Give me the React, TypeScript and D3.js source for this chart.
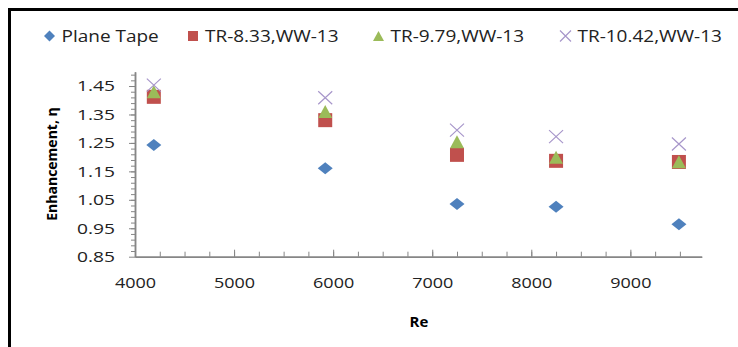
import * as d3 from 'd3';
import React, { useRef, useEffect } from 'react';

// Reynolds numbers on the x axis
const reValues = [4190, 5920, 7250, 8250, 9490];

// enhancement values for each series
const planeTape = [1.243, 1.161, 1.035, 1.026, 0.964];
const tr833 = [1.412, 1.330, 1.208, 1.187, 1.183];
const tr979 = [1.430, 1.360, 1.254, 1.200, 1.184];
const tr1042 = [1.453, 1.409, 1.295, 1.272, 1.246];

const seriesNames = ['Plane Tape', 'TR-8.33,WW-13', 'TR-9.79,WW-13', 'TR-10.42,WW-13'];

// axis ticks
const xTicks = [4000, 5000, 6000, 7000, 8000, 9000];
const xMinorTicks = d3.range(4250, 9750, 250);
const yTicks = [0.85, 0.95, 1.05, 1.15, 1.25, 1.35, 1.45];
const yMinorTicks = d3.range(0.87, 1.5, 0.02);

const FONT = "'Open Sans', 'DejaVu Sans', sans-serif";

// the original text is a little wider than Open Sans, so stretch it
const stretch = (sel, factor) => sel.each(function () {
    const len = this.getComputedTextLength();
    d3.select(this).attr('textLength', len * factor).attr('lengthAdjust', 'spacingAndGlyphs');
});

const App = () => {
    const svgRef = useRef(null);

    useEffect(() => {
        const width = 738;
        const height = 347;

        const svg = d3.select(svgRef.current);
        svg.selectAll('*').remove();
        svg.attr('width', width).attr('height', height);

        // outer frame (cut off at right and bottom like the picture)
        svg.append('rect')
            .attr('x', 9.5).attr('y', 9.5)
            .attr('width', 760).attr('height', 360)
            .attr('fill', 'white')
            .attr('stroke', 'black')
            .attr('stroke-width', 3);

        const x = d3.scaleLinear().domain([4000, 9720]).range([135, 701.7]);
        const y = d3.scaleLinear().domain([0.85, 1.5]).range([256.7, 71.8]);

        const axisColor = '#868686';

        // y axis: minor then major ticks
        const gyMinor = svg.append('g')
            .attr('transform', `translate(${x(4000)},0)`)
            .call(d3.axisLeft(y).tickValues(yMinorTicks).tickSize(4).tickSizeOuter(0).tickFormat(() => ''));
        const gy = svg.append('g')
            .attr('transform', `translate(${x(4000)},0)`)
            .call(d3.axisLeft(y).tickValues(yTicks).tickSize(6).tickSizeOuter(0)
                .tickPadding(14).tickFormat(d3.format('.2f')));

        // x axis ticks point up into the plot
        const gxMinor = svg.append('g')
            .attr('transform', `translate(0,${y(0.85)})`)
            .call(d3.axisBottom(x).tickValues(xMinorTicks).tickSize(-5).tickSizeOuter(0).tickFormat(() => ''));
        const gx = svg.append('g')
            .attr('transform', `translate(0,${y(0.85)})`)
            .call(d3.axisBottom(x).tickValues(xTicks).tickSize(-7).tickSizeOuter(0)
                .tickPadding(21).tickFormat(d3.format('d')));

        [gyMinor, gy, gxMinor, gx].forEach((g) => {
            g.select('.domain').attr('stroke', axisColor).attr('stroke-width', 1.5);
            g.selectAll('.tick line').attr('stroke', axisColor);
            g.selectAll('.tick text')
                .attr('fill', '#222')
                .style('font-family', FONT)
                .style('font-size', '15px');
        });
        stretch(gy.selectAll('.tick text'), 1.28);
        stretch(gx.selectAll('.tick text'), 1.2);

        // axis titles
        svg.append('text')
            .attr('transform', `translate(57,164) rotate(-90)`)
            .attr('text-anchor', 'middle')
            .style('font-family', FONT)
            .style('font-size', '14px')
            .style('font-weight', 'bold')
            .text('Enhancement, η');

        svg.append('text')
            .attr('x', 419).attr('y', 327)
            .attr('text-anchor', 'middle')
            .style('font-family', FONT)
            .style('font-size', '15px')
            .style('font-weight', 'bold')
            .text('Re');

        // marker drawers
        const diamond = (g, cx, cy, w, h) => g.append('path')
            .attr('d', `M${cx - w / 2},${cy}L${cx},${cy - h / 2}L${cx + w / 2},${cy}L${cx},${cy + h / 2}Z`)
            .attr('fill', '#4F81BD');
        const square = (g, cx, cy, s) => g.append('rect')
            .attr('x', cx - s / 2).attr('y', cy - s / 2)
            .attr('width', s).attr('height', s)
            .attr('fill', '#C0504D');
        const triangle = (g, cx, cy, w, h) => g.append('path')
            .attr('d', `M${cx - w / 2},${cy + h / 2}L${cx},${cy - h / 2}L${cx + w / 2},${cy + h / 2}Z`)
            .attr('fill', '#9BBB59');
        const cross = (g, cx, cy, w, h) => g.append('path')
            .attr('d', `M${cx - w / 2},${cy - h / 2}L${cx + w / 2},${cy + h / 2}M${cx - w / 2},${cy + h / 2}L${cx + w / 2},${cy - h / 2}`)
            .attr('stroke', '#A796CA')
            .attr('stroke-width', 1.2)
            .attr('fill', 'none');

        const pts = svg.append('g').attr('class', 'points');
        reValues.forEach((re, i) => diamond(pts, x(re), y(planeTape[i]), 15, 12));
        reValues.forEach((re, i) => square(pts, x(re), y(tr833[i]), 14));
        reValues.forEach((re, i) => triangle(pts, x(re), y(tr979[i]), 14, 13));
        reValues.forEach((re, i) => cross(pts, x(re), y(tr1042[i]), 14, 13));

        // legend
        const legend = svg.append('g').attr('class', 'legend');
        const legendMarkerX = [49.5, 193, 378.5, 565.5];
        const legendY = 36;
        diamond(legend, legendMarkerX[0], legendY, 11, 11);
        square(legend, legendMarkerX[1], legendY, 10);
        triangle(legend, legendMarkerX[2], legendY, 11, 10);
        cross(legend, legendMarkerX[3], legendY, 11, 11);
        const labels = legend.selectAll('text')
            .data(seriesNames)
            .enter().append('text')
            .attr('x', (d, i) => legendMarkerX[i] + 12)
            .attr('y', legendY + 6)
            .style('font-family', FONT)
            .style('font-size', '16.5px')
            .attr('fill', '#222')
            .text((d) => d);
        stretch(labels, 1.15);
    }, []);

    return (
        <svg ref={svgRef} style={{ position: 'absolute', left: 0, top: 0, background: 'white' }}></svg>
    );
};

export default App;
